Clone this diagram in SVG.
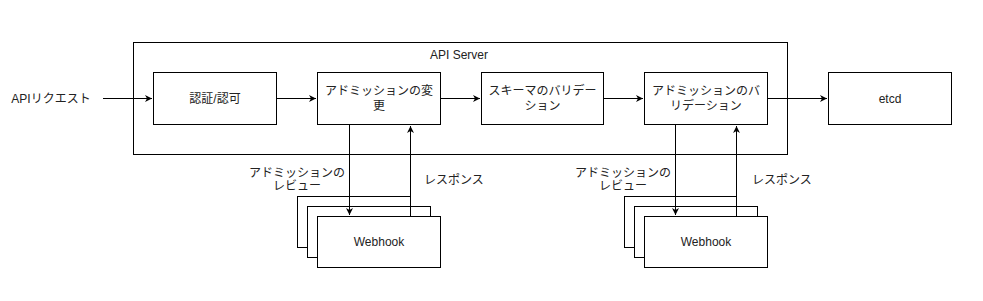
<svg xmlns="http://www.w3.org/2000/svg" width="983" height="301" viewBox="0 0 983 301">
<style>
.box{fill:#fff;stroke:#000;stroke-width:1}
.t{font-family:"Liberation Sans","Noto Sans CJK JP",sans-serif;font-size:12px;fill:#222;text-anchor:middle}
.c{fill:none;stroke:#000;stroke-width:1}
</style>
<defs>
<marker id="ah" markerWidth="8" markerHeight="8" refX="7" refY="4" orient="auto" markerUnits="userSpaceOnUse">
<path d="M0,0.5 L7,4 L0,7.5 L2,4 Z" fill="#000"/>
</marker>
</defs>
<rect width="983" height="301" fill="#fff"/>
<g id="api-server">
<rect class="box" x="133.5" y="42.5" width="654" height="112"/>
<text class="t" x="459" y="58.5">API Server</text>
</g>
<g id="request-label">
<text class="t" x="51" y="103">APIリクエスト</text>
</g>
<g id="auth">
<rect class="box" x="153.5" y="72.5" width="123" height="52"/>
<text class="t" x="215" y="103">認証/認可</text>
</g>
<g id="mutating">
<rect class="box" x="317.5" y="72.5" width="123" height="52"/>
<text class="t" x="379" y="95">アドミッションの変</text>
<text class="t" x="379" y="110">更</text>
</g>
<g id="schema">
<rect class="box" x="481.5" y="72.5" width="122" height="52"/>
<text class="t" x="542.5" y="95">スキーマのバリデー</text>
<text class="t" x="542.5" y="110">ション</text>
</g>
<g id="validating">
<rect class="box" x="644.5" y="72.5" width="123" height="52"/>
<text class="t" x="706" y="95">アドミッションのバ</text>
<text class="t" x="706" y="110">リデーション</text>
</g>
<g id="etcd">
<rect class="box" x="828.5" y="72.5" width="123" height="52"/>
<text class="t" x="890" y="103">etcd</text>
</g>
<g id="webhook1">
<rect class="box" x="297.5" y="196.5" width="113" height="51"/>
<rect class="box" x="307.5" y="206.5" width="123" height="51"/>
<rect class="box" x="317.5" y="216.5" width="123" height="51"/>
<text class="t" x="379" y="246">Webhook</text>
</g>
<g id="webhook2">
<rect class="box" x="624.5" y="196.5" width="112" height="51"/>
<rect class="box" x="634.5" y="206.5" width="123" height="51"/>
<rect class="box" x="644.5" y="216.5" width="123" height="51"/>
<text class="t" x="706" y="246">Webhook</text>
</g>
<g id="connectors">
<path class="c" d="M103,98.5 H152" marker-end="url(#ah)"/>
<path class="c" d="M276.5,98.5 H316" marker-end="url(#ah)"/>
<path class="c" d="M440.5,98.5 H480" marker-end="url(#ah)"/>
<path class="c" d="M603.5,98.5 H643" marker-end="url(#ah)"/>
<path class="c" d="M767.5,98.5 H827" marker-end="url(#ah)"/>
<path class="c" d="M349.5,124.5 V215" marker-end="url(#ah)"/>
<path class="c" d="M410.5,216.5 V126" marker-end="url(#ah)"/>
<path class="c" d="M675.5,124.5 V215" marker-end="url(#ah)"/>
<path class="c" d="M736.5,216.5 V126" marker-end="url(#ah)"/>
<text class="t" x="297" y="177">アドミッションの</text>
<text class="t" x="297" y="190">レビュー</text>
<text class="t" x="454" y="184">レスポンス</text>
<text class="t" x="623" y="177">アドミッションの</text>
<text class="t" x="623" y="190">レビュー</text>
<text class="t" x="782" y="184">レスポンス</text>
</g>
</svg>
